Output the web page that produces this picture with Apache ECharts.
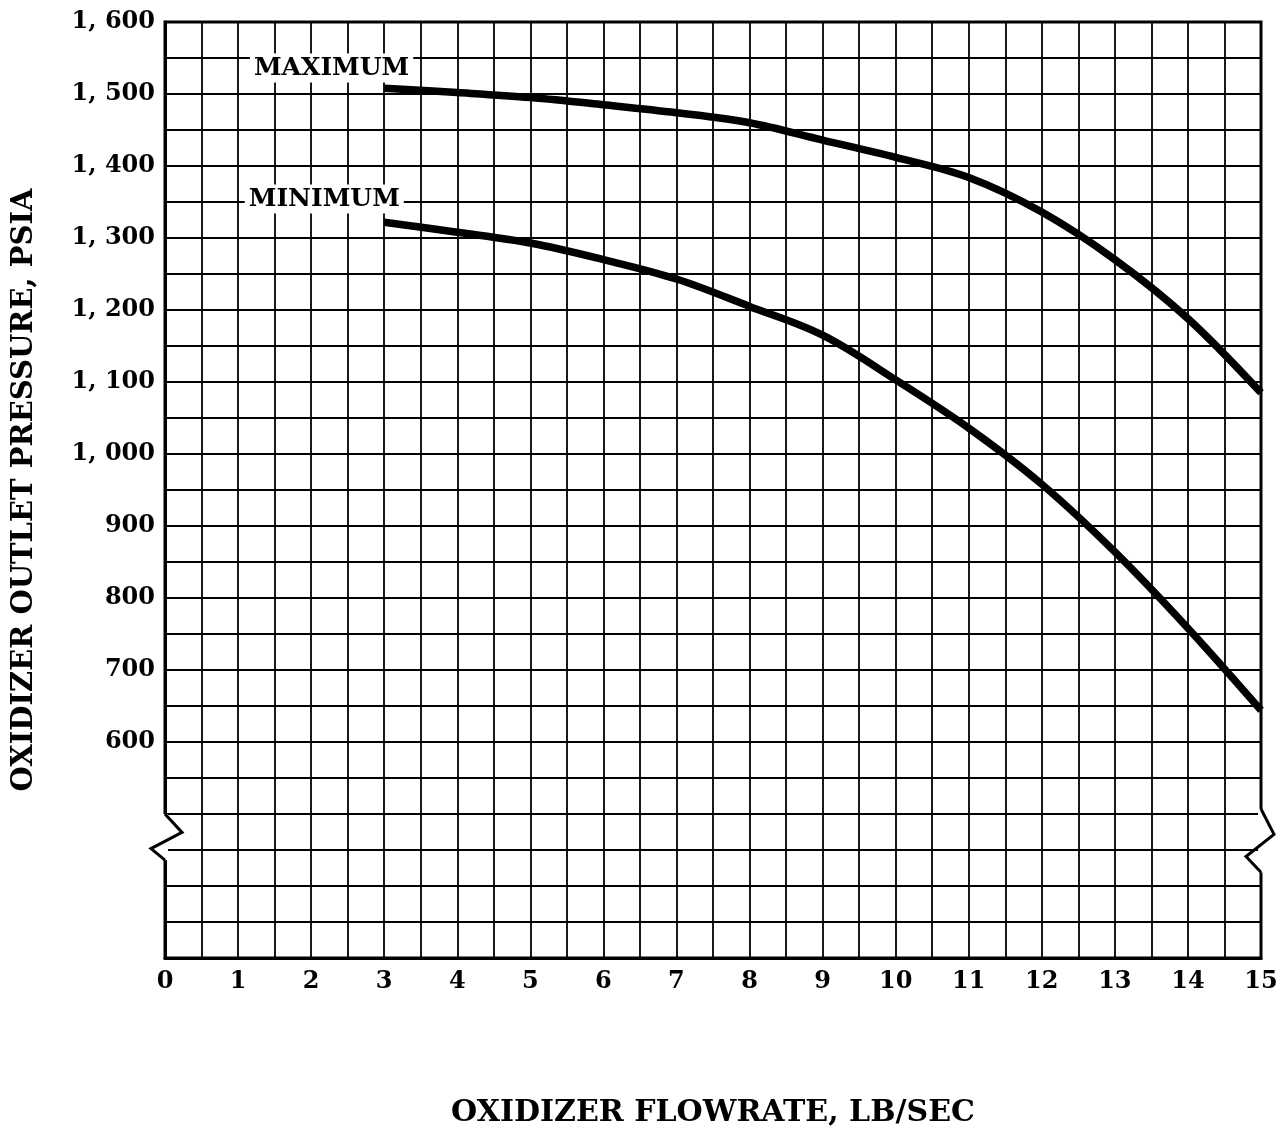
<!DOCTYPE html>
<html>
<head>
<meta charset="utf-8">
<script src="https://cdn.jsdelivr.net/npm/echarts@6/dist/echarts.min.js"></script>
<style>
  html, body { margin: 0; padding: 0; background: #fff; }
  #chart { width: 1283px; height: 1132px; }
</style>
</head>
<body>
<div id="chart"></div>
<script>
// oxidizer flowrate, lb/sec
const flowrate = [3, 4, 5, 6, 7, 8, 9, 10, 11, 12, 13, 14, 15]
// outlet pressure, psia
const maxPressure = [1508, 1502, 1495, 1485, 1474, 1460, 1436, 1412, 1384, 1336, 1270, 1188, 1085]
const minPressure = [1322, 1308, 1293, 1270, 1243, 1205, 1165, 1103, 1036, 958, 864, 758, 644]
const curveNames = ['MAXIMUM', 'MINIMUM']
const xTicks = [0, 1, 2, 3, 4, 5, 6, 7, 8, 9, 10, 11, 12, 13, 14, 15]
const yTicks = [600, 700, 800, 900, 1000, 1100, 1200, 1300, 1400, 1500, 1600]

const serif = '"DejaVu Serif", "Liberation Serif", serif'
const chart = echarts.init(document.getElementById('chart'), null, { renderer: 'canvas' })

const toPairs = (ys) => flowrate.map((x, i) => [x, ys[i]])

const fmtY = (v) => {
  if (!yTicks.includes(v)) return ''
  const s = String(v)
  return s.length > 3 ? s.slice(0, s.length - 3) + ', ' + s.slice(-3) : s
}

const curve = (name, ys) => ({
  name,
  type: 'line',
  data: toPairs(ys),
  smooth: 0.35,
  symbol: 'none',
  lineStyle: { color: '#000', width: 7.5 },
  z: 5
})

const option = {
  backgroundColor: '#fff',
  animation: false,
  grid: {
    left: 165,
    right: 22,
    top: 22,
    bottom: 174,
    containLabel: false,
    outerBoundsMode: 'none',
    show: true,
    borderColor: '#000',
    borderWidth: 3
  },
  xAxis: {
    type: 'value',
    min: 0,
    max: 15,
    interval: 0.5,
    name: 'OXIDIZER FLOWRATE, LB/SEC',
    nameLocation: 'middle',
    nameGap: 140,
    nameMoveOverlap: false,
    nameTextStyle: { fontFamily: serif, fontWeight: 'bold', fontSize: 30, color: '#000' },
    axisLine: { show: true, lineStyle: { color: '#000', width: 3 } },
    axisTick: { show: false },
    axisLabel: {
      formatter: (v) => (xTicks.includes(v) ? String(v) : ''),
      fontFamily: serif,
      fontWeight: 'bold',
      fontSize: 24,
      color: '#000',
      margin: 12,
      showMinLabel: true,
      showMaxLabel: true
    },
    splitLine: { show: true, lineStyle: { color: '#000', width: 1.8 } }
  },
  yAxis: {
    type: 'value',
    min: 300,
    max: 1600,
    interval: 50,
    name: 'OXIDIZER OUTLET PRESSURE, PSIA',
    nameLocation: 'middle',
    nameGap: 126,
    nameMoveOverlap: false,
    nameTextStyle: { fontFamily: serif, fontWeight: 'bold', fontSize: 29, color: '#000' },
    axisLine: { show: true, lineStyle: { color: '#000', width: 3 } },
    axisTick: { show: false },
    axisLabel: {
      formatter: fmtY,
      fontFamily: serif,
      fontWeight: 'bold',
      fontSize: 24,
      color: '#000',
      margin: 10
    },
    splitLine: { show: true, lineStyle: { color: '#000', width: 1.8 } }
  },
  series: [curve(curveNames[0], maxPressure), curve(curveNames[1], minPressure)]
}
chart.setOption(option)

// curve names and the axis break marks, placed through the axes
const px = (x, y) => chart.convertToPixel({ gridIndex: 0 }, [x, y])
const maxLbl = px(2.28, 1536)
const minLbl = px(2.18, 1354)
const leftTop = px(0, 500)[1]
const leftBot = px(0, 436)[1]
const rightTop = px(0, 507)[1]
const rightBot = px(0, 419)[1]
const leftX = px(0, 0)[0]
const rightX = px(15, 0)[0]

const label = (text, p) => ({
  type: 'text',
  x: p[0],
  y: p[1],
  z: 10,
  style: {
    text,
    fill: '#000',
    font: 'bold 25px ' + serif,
    align: 'center',
    verticalAlign: 'middle',
    backgroundColor: '#fff',
    padding: [2, 4]
  }
})

const brkMark = (x, top, bot, out, inn) => {
  const h = bot - top
  return [
    { type: 'rect', z: 10, shape: { x: x - 3, y: top, width: 6, height: h }, style: { fill: '#fff' } },
    {
      type: 'polyline', z: 11,
      shape: { points: [[x, top], [x + out, top + h * 0.4], [x + inn, top + h * 0.75], [x, bot]] },
      style: { stroke: '#000', lineWidth: 3, fill: null }
    }
  ]
}

chart.setOption({
  graphic: [
    label(curveNames[0], maxLbl),
    label(curveNames[1], minLbl),
    ...brkMark(leftX, leftTop, leftBot, 17, -14),
    ...brkMark(rightX, rightTop, rightBot, 13, -15)
  ]
})
</script>
</body>
</html>
